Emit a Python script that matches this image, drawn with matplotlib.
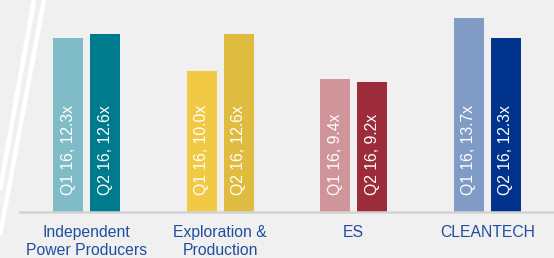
import matplotlib
matplotlib.use("Agg")
import matplotlib.pyplot as plt
from matplotlib.lines import Line2D
import numpy as np

categories = ["Independent\nPower Producers", "Exploration &\nProduction", "ES", "CLEANTECH"]
q1_values = [12.3, 10.0, 9.4, 13.7]
q2_values = [12.6, 12.6, 9.2, 12.3]
q1_labels = ["Q1 16, 12.3x", "Q1 16, 10.0x", "Q1 16, 9.4x", "Q1 16, 13.7x"]
q2_labels = ["Q2 16, 12.6x", "Q2 16, 12.6x", "Q2 16, 9.2x", "Q2 16, 12.3x"]
q1_colors = ["#80bcc8", "#f2c944", "#d0959b", "#809cc6"]
q2_colors = ["#007b8e", "#dfbb3f", "#9c2c39", "#00338b"]

W, H = 554, 258
bg = "#f0f0f0"
fig = plt.figure(figsize=(W / 100, H / 100), dpi=100, facecolor=bg)

# decorative diagonal lines
fig.add_artist(Line2D([34 / W, 0 / W], [1, 1 - 190 / H], transform=fig.transFigure,
                      color="white", lw=3.4, solid_capstyle="butt"))
fig.add_artist(Line2D([44 / W, 0 / W], [1, 1 - 235 / H], transform=fig.transFigure,
                      color="white", lw=3.4, solid_capstyle="butt"))

ax = fig.add_axes([20 / W, (H - 212) / H, 534 / W, 212 / H])
ax.set_facecolor("none")
ax.set_xlim(-0.5, 3.5)
ax.set_ylim(0, 15)

x = np.arange(len(categories))
bw = 0.225
off = 0.139
b1 = ax.bar(x - off, q1_values, bw, color=q1_colors, zorder=2)
b2 = ax.bar(x + off, q2_values, bw, color=q2_colors, zorder=2)

font = ["Liberation Sans", "DejaVu Sans"]
for bars, labels in ((b1, q1_labels), (b2, q2_labels)):
    for rect, lab in zip(bars, labels):
        ax.annotate(lab, (rect.get_x() + rect.get_width() / 2, 0),
                    xytext=(0, 12.5), textcoords="offset points",
                    rotation=90, ha="center", va="bottom", color="white",
                    fontsize=11.3, family=font, zorder=3)

for s in ["top", "right", "left"]:
    ax.spines[s].set_visible(False)
ax.spines["bottom"].set_color("#d3d3d3")
ax.spines["bottom"].set_linewidth(1.8)
ax.set_yticks([])
ax.set_xticks(x)
ax.set_xticklabels(categories, fontsize=11.3, color="#1f4e9f", family=font,
                   linespacing=1.25)
ax.tick_params(axis="x", length=0, pad=9.5)

fig.savefig("out.png", dpi=100, facecolor=bg)
